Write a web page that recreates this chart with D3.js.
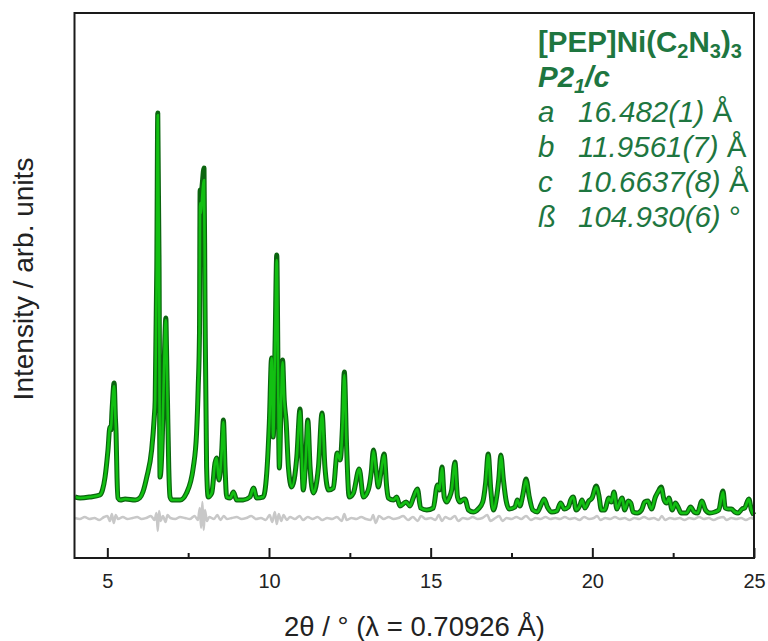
<!DOCTYPE html>
<html>
<head>
<meta charset="utf-8">
<script src="https://cdn.jsdelivr.net/npm/d3@7"></script>
<style>
  body { margin: 0; background: #fff; }
  svg text { font-family: Arial, "Liberation Sans", sans-serif; }
</style>
</head>
<body>
<div id="chart"></div>
<script>
var twoTheta = [
  4.00, 4.16, 4.46, 4.77, 4.85, 4.93, 5.02, 5.08, 5.11, 5.15, 5.21, 5.25, 5.27, 5.30, 5.33, 5.40, 5.55, 5.86, 6.00, 6.10,
  6.22, 6.37, 6.45, 6.48, 6.53, 6.56, 6.60, 6.63, 6.70, 6.73, 6.78, 6.81, 6.83, 6.86, 6.90, 6.94, 7.00, 7.25, 7.45, 7.66,
  7.76, 7.81, 7.85, 7.87, 7.90, 7.93, 7.99, 8.02, 8.07, 8.12, 8.23, 8.33, 8.38, 8.45, 8.54, 8.59, 8.64, 8.69, 8.80, 8.90,
  9.00, 9.20, 9.41, 9.52, 9.62, 9.82, 9.93, 10.01, 10.08, 10.13, 10.19, 10.24, 10.28, 10.32, 10.37, 10.42, 10.47, 10.53, 10.60, 10.70,
  10.86, 10.96, 11.01, 11.06, 11.14, 11.20, 11.27, 11.37, 11.53, 11.64, 11.73, 11.84, 11.99, 12.11, 12.20, 12.27, 12.33, 12.40, 12.48, 12.61,
  12.79, 12.92, 13.07, 13.16, 13.23, 13.31, 13.38, 13.46, 13.56, 13.64, 13.69, 13.85, 13.95, 14.05, 14.24, 14.36, 14.46, 14.59, 14.69, 14.88,
  15.08, 15.21, 15.27, 15.35, 15.42, 15.50, 15.57, 15.65, 15.75, 15.83, 15.91, 15.98, 16.06, 16.17, 16.32, 16.47, 16.61, 16.70, 16.78, 16.86,
  16.94, 17.04, 17.11, 17.17, 17.25, 17.33, 17.43, 17.61, 17.68, 17.76, 17.85, 17.95, 18.05, 18.16, 18.30, 18.41, 18.51, 18.61, 18.75, 18.90,
  19.02, 19.13, 19.26, 19.33, 19.41, 19.50, 19.62, 19.68, 19.77, 19.89, 19.99, 20.12, 20.20, 20.28, 20.38, 20.51, 20.59, 20.67, 20.76, 20.85,
  20.92, 21.00, 21.11, 21.19, 21.26, 21.39, 21.52, 21.62, 21.72, 21.83, 21.95, 22.03, 22.13, 22.22, 22.30, 22.37, 22.47, 22.57, 22.65, 22.75,
  22.91, 23.04, 23.15, 23.25, 23.39, 23.50, 23.63, 23.79, 23.91, 24.04, 24.11, 24.20, 24.30, 24.41, 24.51, 24.63, 24.71, 24.84, 24.92, 25.00
];

// observed intensity (arb. units)
var obsI = [
  61, 60, 61, 63, 68, 81, 108, 131, 128, 150, 175, 140, 125, 80, 60, 58, 59, 58, 60, 66,
  81, 108, 140, 158, 291, 445, 291, 81, 120, 158, 220, 240, 210, 158, 90, 61, 58, 58, 65, 91,
  125, 170, 225, 368, 362, 372, 390, 258, 91, 61, 65, 95, 100, 78, 108, 138, 91, 61, 60, 66,
  58, 58, 61, 70, 60, 61, 85, 135, 200, 121, 218, 303, 185, 90, 151, 198, 158, 136, 91, 71,
  101, 149, 105, 68, 101, 138, 91, 65, 91, 145, 91, 68, 70, 105, 98, 130, 186, 111, 61, 65,
  89, 61, 68, 85, 108, 88, 71, 85, 104, 71, 60, 58, 61, 52, 56, 52, 60, 69, 50, 48,
  50, 73, 68, 91, 61, 56, 60, 68, 96, 61, 56, 58, 59, 48, 46, 49, 56, 75, 104, 68,
  48, 61, 80, 103, 78, 58, 49, 51, 58, 52, 63, 79, 61, 48, 46, 53, 59, 51, 46, 47,
  55, 49, 51, 58, 61, 48, 53, 58, 50, 57, 60, 72, 63, 48, 48, 60, 56, 66, 49, 56,
  60, 48, 57, 55, 46, 45, 48, 56, 57, 49, 61, 66, 71, 58, 55, 60, 48, 55, 51, 45,
  45, 51, 46, 45, 57, 48, 45, 46, 48, 67, 50, 49, 49, 46, 45, 49, 50, 59, 48, 43
];

// calculated (refined) intensity
var calcI = [
  61, 60, 61, 63, 68, 81, 108, 131, 128, 150, 172, 140, 125, 80, 60, 58, 59, 58, 60, 66,
  81, 108, 140, 158, 291, 443, 291, 81, 120, 158, 220, 238, 210, 158, 90, 61, 58, 58, 65, 91,
  125, 170, 225, 355, 345, 360, 378, 258, 91, 61, 65, 95, 100, 78, 108, 136, 91, 61, 60, 66,
  58, 58, 61, 70, 60, 61, 85, 135, 200, 121, 218, 298, 185, 90, 151, 196, 158, 136, 91, 71,
  101, 147, 105, 68, 101, 137, 91, 65, 91, 144, 91, 68, 70, 105, 98, 130, 183, 111, 61, 65,
  89, 61, 68, 85, 107, 88, 71, 85, 103, 71, 60, 58, 61, 52, 56, 52, 60, 69, 50, 48,
  50, 73, 68, 90, 61, 56, 60, 68, 95, 61, 56, 58, 59, 48, 46, 49, 56, 75, 103, 68,
  48, 61, 80, 102, 78, 58, 49, 51, 58, 52, 63, 78, 61, 48, 46, 53, 59, 51, 46, 47,
  55, 49, 51, 58, 61, 48, 53, 58, 50, 57, 60, 71, 63, 48, 48, 60, 56, 66, 49, 56,
  60, 48, 57, 55, 46, 45, 48, 56, 57, 49, 61, 66, 70, 58, 55, 60, 48, 55, 51, 45,
  45, 51, 46, 45, 57, 48, 45, 46, 48, 66, 50, 49, 49, 46, 45, 49, 50, 59, 48, 43
];

// difference curve (obs - calc, offset below the pattern)
var diffData = [
  [4.00, 40], [4.15, 39], [4.30, 41], [4.45, 39], [4.60, 40], [4.75, 38], [4.90, 41], [5.00, 42], [5.08, 37], [5.14, 44],
  [5.20, 35], [5.26, 43], [5.33, 39], [5.48, 41], [5.62, 39], [5.78, 40], [5.92, 41], [6.06, 39], [6.20, 40], [6.35, 42],
  [6.46, 38], [6.52, 45], [6.56, 27], [6.60, 47], [6.65, 37], [6.72, 42], [6.80, 36], [6.86, 43], [6.95, 40], [7.10, 39],
  [7.25, 41], [7.40, 40], [7.55, 39], [7.70, 42], [7.80, 38], [7.86, 50], [7.90, 30], [7.94, 56], [7.98, 28], [8.02, 48],
  [8.08, 37], [8.15, 41], [8.30, 39], [8.40, 43], [8.50, 38], [8.60, 42], [8.70, 39], [8.85, 40], [9.00, 41], [9.15, 39],
  [9.30, 40], [9.45, 42], [9.60, 39], [9.75, 40], [9.90, 38], [10.02, 43], [10.10, 36], [10.18, 46], [10.24, 34], [10.30, 44],
  [10.38, 37], [10.45, 43], [10.55, 38], [10.65, 41], [10.80, 39], [10.95, 42], [11.05, 38], [11.20, 41], [11.35, 39], [11.50, 41],
  [11.65, 38], [11.80, 40], [11.95, 39], [12.10, 41], [12.25, 37], [12.33, 44], [12.40, 38], [12.55, 40], [12.70, 39], [12.85, 41],
  [13.00, 39], [13.15, 38], [13.22, 43], [13.30, 35], [13.40, 42], [13.55, 39], [13.70, 41], [13.85, 39], [14.00, 40], [14.15, 42],
  [14.30, 38], [14.45, 41], [14.60, 37], [14.70, 42], [14.85, 39], [15.00, 40], [15.15, 38], [15.25, 43], [15.35, 37], [15.45, 41],
  [15.60, 39], [15.75, 42], [15.85, 37], [16.00, 40], [16.15, 39], [16.30, 41], [16.45, 39], [16.60, 40], [16.75, 43], [16.85, 37],
  [17.00, 40], [17.12, 42], [17.22, 37], [17.35, 40], [17.50, 39], [17.65, 41], [17.80, 39], [17.95, 42], [18.10, 38], [18.25, 40],
  [18.40, 39], [18.55, 41], [18.70, 39], [18.85, 40], [19.00, 39], [19.15, 41], [19.30, 39], [19.45, 40], [19.60, 38], [19.75, 41],
  [19.90, 39], [20.05, 40], [20.15, 42], [20.25, 38], [20.40, 40], [20.55, 39], [20.70, 41], [20.85, 39], [21.00, 40], [21.15, 38],
  [21.30, 40], [21.45, 39], [21.60, 41], [21.75, 39], [21.90, 40], [22.05, 38], [22.15, 42], [22.25, 38], [22.40, 40], [22.55, 39],
  [22.70, 40], [22.85, 38], [23.00, 40], [23.15, 39], [23.30, 41], [23.45, 39], [23.60, 40], [23.75, 38], [23.90, 40], [24.05, 41],
  [24.15, 38], [24.30, 40], [24.45, 39], [24.60, 40], [24.75, 38], [24.90, 40], [25.00, 39]
];

var majorTicks = [5, 10, 15, 20, 25];
var minorTicks = [7.5, 12.5, 17.5, 22.5];

// refined cell, shown top right
var compound = ["[PEP]Ni(C", "2", "N", "3", ")", "3"];
var spaceGroup = ["P2", "1", "/c"];
var cellParams = ["a", "b", "c", "ß"];
var cellValues = ["16.482(1)", "11.9561(7)", "10.6637(8)", "104.930(6)"];
var cellUnits = ["Å", "Å", "Å", "°"];

var xScale, yScale, svg;

function PatternChart({
    width = 768,
    height = 641,
    marginTop = 13,
    marginRight = 14,
    marginBottom = 83,
    marginLeft = 75,
    textColor = "#1e7640",
    noteSize = 29.5,
    subSize = 20
  } = {}) {

  xScale = d3.scaleLinear([4, 25], [marginLeft, width - marginRight]);
  yScale = d3.scaleLinear([0, 545], [height - marginBottom, marginTop]);

  svg = d3.select("#chart")
      .append("svg")
      .attr("width", width)
      .attr("height", height)
      .attr("viewBox", [0, 0, width, height]);

  var line = d3.line()
      .curve(d3.curveMonotoneX)
      .x(d => xScale(d[0]))
      .y(d => yScale(d[1]));

  var obs = twoTheta.map((t, i) => [t, obsI[i]]);
  var calc = twoTheta.map((t, i) => [t, calcI[i]]);

  // difference curve
  svg.append("path")
      .attr("fill", "none")
      .attr("stroke", "#c8c8c8")
      .attr("stroke-width", 2.5)
      .attr("stroke-linejoin", "round")
      .attr("d", line(diffData));

  // observed underneath, calculated on top
  svg.append("path")
      .attr("fill", "none")
      .attr("stroke", "#0b650f")
      .attr("stroke-width", 5)
      .attr("stroke-linejoin", "round")
      .attr("d", line(obs));

  svg.append("path")
      .attr("fill", "none")
      .attr("stroke", "#12c012")
      .attr("stroke-width", 2.6)
      .attr("stroke-linejoin", "round")
      .attr("d", line(calc));

  // frame
  svg.append("rect")
      .attr("x", marginLeft - 0.5)
      .attr("y", marginTop)
      .attr("width", width - marginRight - marginLeft + 0.5)
      .attr("height", height - marginBottom - marginTop)
      .attr("fill", "none")
      .attr("stroke", "#1a1a1a")
      .attr("stroke-width", 2);

  // x axis, ticks pointing inwards
  var gx = svg.append("g")
      .attr("transform", `translate(0,${height - marginBottom})`)
      .call(d3.axisBottom(xScale).tickValues(majorTicks).tickSizeInner(-10).tickSizeOuter(0).tickPadding(16));
  gx.select(".domain").remove();
  gx.selectAll(".tick line").attr("stroke", "#1a1a1a").attr("stroke-width", 2);
  gx.selectAll(".tick text").attr("font-size", 20).attr("fill", "#222")
      .attr("font-family", "Arial, 'Liberation Sans', sans-serif");

  var gm = svg.append("g")
      .attr("transform", `translate(0,${height - marginBottom})`)
      .call(d3.axisBottom(xScale).tickValues(minorTicks).tickSize(-5).tickFormat(""));
  gm.select(".domain").remove();
  gm.selectAll(".tick line").attr("stroke", "#1a1a1a").attr("stroke-width", 2);

  // axis titles
  svg.append("text")
      .attr("x", (marginLeft + width - marginRight) / 2)
      .attr("y", 636)
      .attr("text-anchor", "middle")
      .attr("font-size", 27.5)
      .attr("fill", "#222")
      .text("2θ / ° (λ = 0.70926 Å)");

  svg.append("text")
      .attr("transform", "translate(33,279) rotate(-90)")
      .attr("text-anchor", "middle")
      .attr("font-size", 28)
      .attr("fill", "#222")
      .text("Intensity / arb. units");

  // annotation block
  var tx = 538;
  var t1 = svg.append("text")
      .attr("x", tx).attr("y", 52)
      .attr("font-size", noteSize).attr("font-weight", "bold")
      .attr("fill", textColor);
  compound.forEach((s, i) => {
    var sub = i % 2 === 1;
    t1.append("tspan")
      .attr("dy", sub ? 6 : (i > 0 ? -6 : 0))
      .attr("font-size", sub ? subSize : noteSize)
      .text(s);
  });

  var t2 = svg.append("text")
      .attr("x", tx).attr("y", 87)
      .attr("font-size", noteSize).attr("font-weight", "bold").attr("font-style", "italic")
      .attr("fill", textColor);
  spaceGroup.forEach((s, i) => {
    var sub = i === 1;
    t2.append("tspan")
      .attr("dy", sub ? 6 : (i > 0 ? -6 : 0))
      .attr("font-size", sub ? subSize : noteSize)
      .text(s);
  });

  cellParams.forEach((p, i) => {
    var t = svg.append("text")
        .attr("y", 122 + i * 35)
        .attr("font-size", noteSize)
        .attr("fill", textColor);
    t.append("tspan").attr("x", tx).attr("font-style", "italic").text(p);
    t.append("tspan").attr("x", 578).attr("font-style", "italic").text(cellValues[i]);
    t.append("tspan").text("\u00a0" + cellUnits[i]);
  });

  return svg.node();
}

function init() {
  PatternChart();
}

window.onload = init;
</script>
</body>
</html>
